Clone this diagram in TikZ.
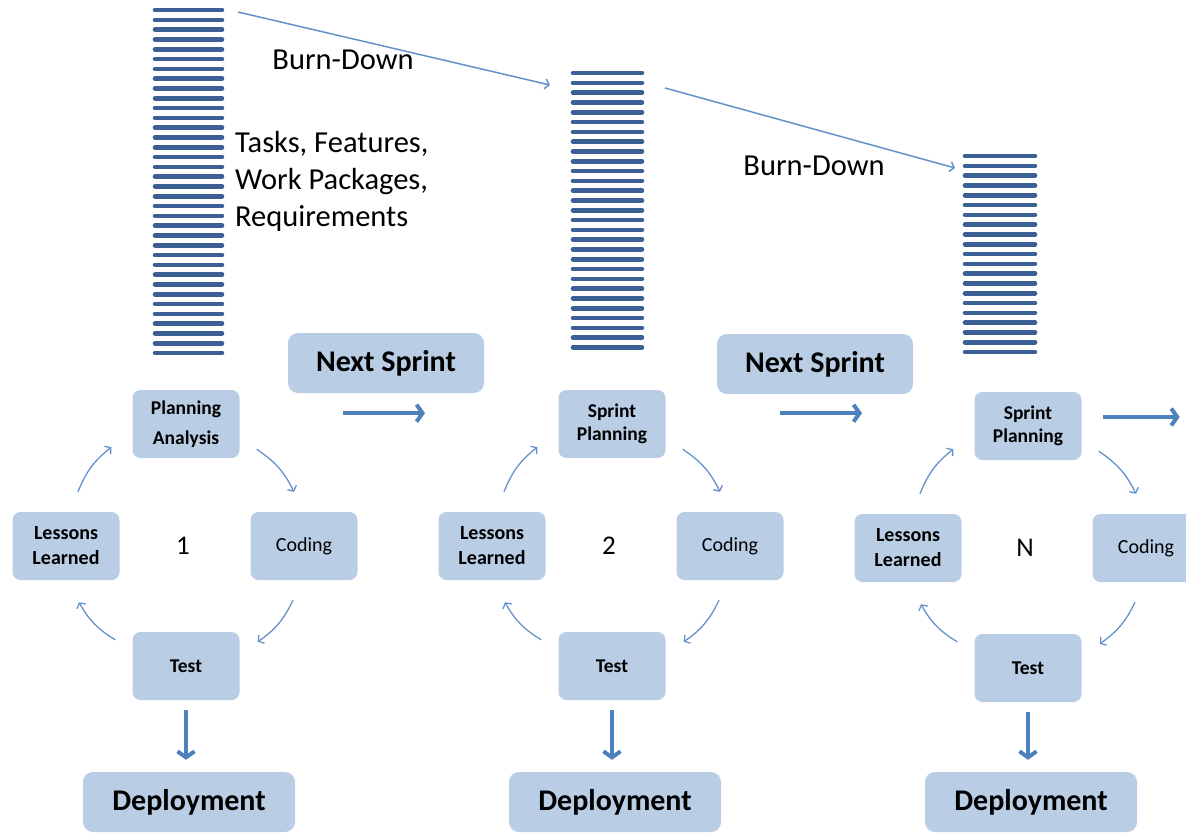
\documentclass[tikz,border=0pt]{standalone}
\usepackage{xcolor}
\usepackage{fontspec}
\setmainfont{Carlito}
\usepackage{tikz}
\usetikzlibrary{arrows.meta}

\definecolor{boxblue}{RGB}{185,205,229}
\definecolor{arrowblue}{RGB}{79,129,189}
\definecolor{stripeblue}{RGB}{60,96,150}
\definecolor{thinblue}{RGB}{100,146,203}

\tikzset{
  box/.style={rounded corners=8pt, fill=boxblue, minimum width=107pt, minimum height=68pt,
    align=center, font=\fontsize{19.5}{23}\selectfont\bfseries},
  bigbox/.style={rounded corners=10pt, fill=boxblue, minimum height=60pt,
    font=\fontsize{30}{36}\selectfont\bfseries},
  bigtxt/.style={font=\fontsize{30.5}{37}\selectfont},
  numtxt/.style={font=\fontsize{27}{30}\selectfont},
  stripe/.style={stripeblue, line width=4.6pt, line cap=round},
  cyc/.style={thinblue, line width=1.3pt, -{Straight Barb[length=4pt,width=10pt]}},
  fat/.style={arrowblue, line width=4pt, -{Straight Barb[length=6pt,width=17pt]}},
  burn/.style={thinblue, line width=1.5pt, -{Straight Barb[length=4pt,width=10pt]}}
}

\begin{document}
\begin{tikzpicture}[x=1pt, y=-1pt]
  \useasboundingbox (0,0) rectangle (1186,833);

  % Backlog stacks
  \foreach \name/\xl/\xr/\yt/\n in {stA/155/222/10/36, stB/573/642/73/29, stC/965/1035/156/21}{
    \foreach \k in {1,...,\n}{
      \draw[stripe] (\xl,{\yt+(\k-1)*9.8}) -- (\xr,{\yt+(\k-1)*9.8});
    };
    \coordinate (\name) at (\xl,\yt);
    \coordinate (\name-ne) at (\xr,\yt);
  };

  \draw (343,60) node(bd1) [bigtxt] {Burn-Down};
  \draw (814,166) node(bd2) [bigtxt] {Burn-Down};
  \draw (235,181) node(tasks) [bigtxt, anchor=west, align=left, inner sep=0pt]
    {Tasks, Features,\\Work Packages,\\Requirements};

  \path[burn] ([shift={(16,2)}]stA-ne) edge ([shift={(-23,12)}]stB);
  \path[burn] ([shift={(23,15)}]stB-ne) edge ([shift={(-10,12)}]stC);

  % Sprint cycles
  \foreach \cx/\dy/\first/\num/\i in {186/0/{Planning\\[7pt]Analysis}/1/1,
      612/0/{Sprint\\Planning}/2/2, 1028/2/{Sprint\\Planning}/N/3}{
    \draw (\cx,424+\dy) node(plan\i) [box] {\first};
    \draw (\cx+118,546+\dy) node(code\i) [box, font=\fontsize{20}{24}\selectfont] {Coding};
    \draw (\cx,666+\dy) node(test\i) [box] {Test};
    \draw (\cx-120,546+\dy) node(less\i) [box, font=\fontsize{20}{25}\selectfont\bfseries] {Lessons\\Learned};
    \draw (\cx-3,546+\dy) node(num\i) [numtxt] {\num};
    \draw (\cx+3,802) node(dep\i) [bigbox, minimum width=212pt] {Deployment};

    \path[cyc] ([shift={(17,-9)}]plan\i.south east) edge[bend left=15] ([shift={(-10,-20)}]code\i.north);
    \path[cyc] ([shift={(-11,20)}]code\i.south)     edge[bend left=15] ([shift={(18,10)}]test\i.north east);
    \path[cyc] ([shift={(-17,8)}]test\i.north west) edge[bend left=15] ([shift={(13,22)}]less\i.south);
    \path[cyc] ([shift={(12,-20)}]less\i.north)     edge[bend left=15] ([shift={(-21,-11)}]plan\i.south west);
    \path[fat] (test\i.south) edge[shorten <=10pt, shorten >=12pt] (test\i.south |- dep\i.north);
  };

  % Next sprint
  \draw (386,363) node(next1) [bigbox, minimum width=196pt] {Next Sprint};
  \draw (815,364) node(next2) [bigbox, minimum width=196pt] {Next Sprint};

  \path[fat] ([shift={(-43,20)}]next1.south) edge ([shift={(39,20)}]next1.south);
  \path[fat] ([shift={(-35,19)}]next2.south) edge ([shift={(47,19)}]next2.south);
  \path[fat] ([shift={(21,-9)}]plan3.east)   edge ([shift={(98,-9)}]plan3.east);

\end{tikzpicture}
\end{document}
